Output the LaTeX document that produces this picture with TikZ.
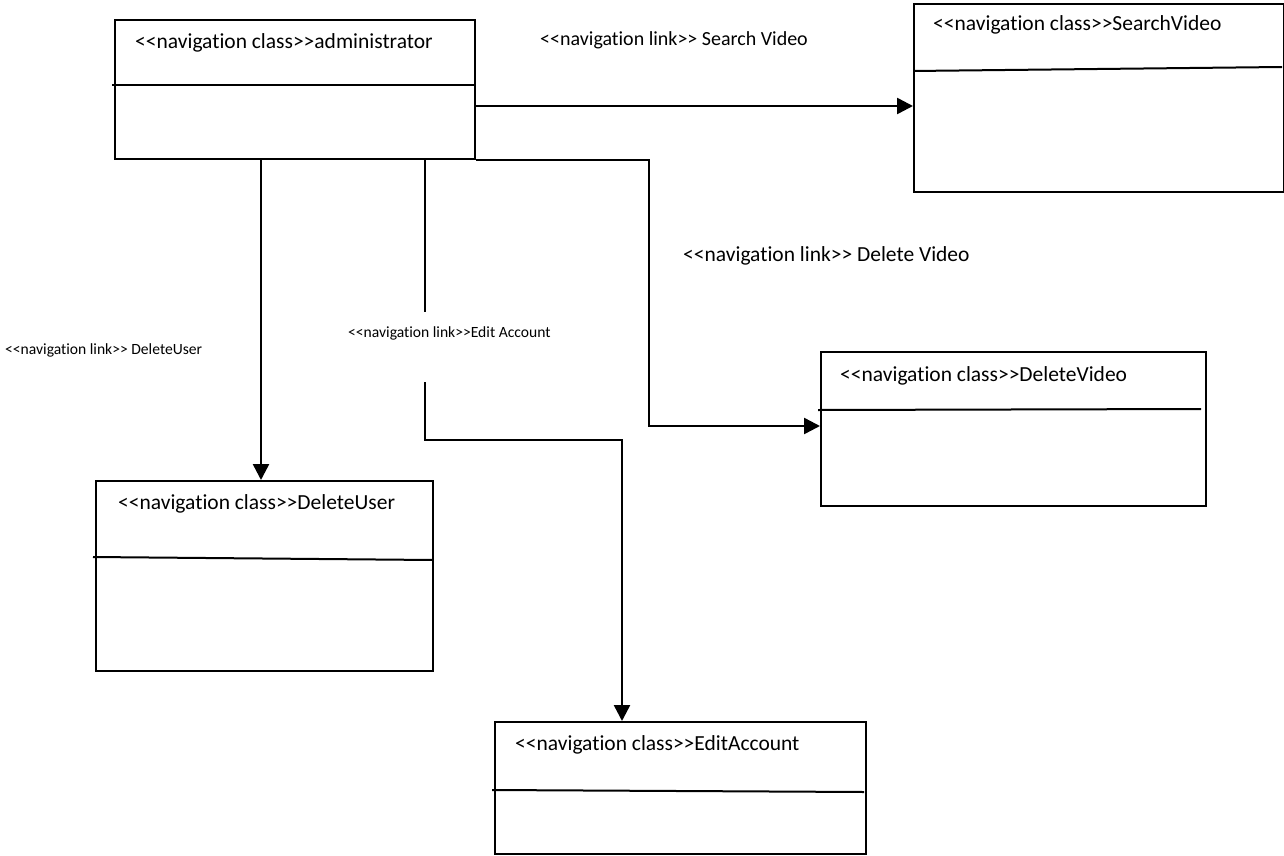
\documentclass[tikz,border=0pt]{standalone}
\usepackage{fontspec}
\setmainfont{Carlito}[Ligatures={TeXOff,NoCommon}]
\usetikzlibrary{arrows.meta,calc}
\begin{document}
\begin{tikzpicture}[x=1pt,y=-1pt,
  classbox/.style={draw, line width=2pt, rectangle, anchor=north west, inner sep=0pt},
  divider/.style={line width=2pt},
  link/.style={line width=2.5pt, -{Triangle[length=16pt,width=16pt]}},
  plain/.style={line width=2.5pt},
  title/.style={anchor=west, inner sep=0pt, font=\fontsize{21.5}{25}\selectfont},
  lbl/.style={anchor=west, inner sep=0pt, font=\fontsize{20}{24}\selectfont},
  small/.style={anchor=west, inner sep=0pt, font=\fontsize{15.6}{18}\selectfont}]
\useasboundingbox (0,0) rectangle (1284,856);

% navigation classes
\node[classbox, minimum width=360pt, minimum height=139pt] (admin) at (114,19) {};
\node[title] (tadmin) at (135,43) {<<navigation class>>administrator};
\draw[divider] (112,85) -- (474,85);

\node[classbox, minimum width=370pt, minimum height=188pt] (search) at (913,3) {};
\node[title] (tsearch) at (933,25) {<<navigation class>>SearchVideo};
\draw[divider] (913,71) -- (1282,67);

\node[classbox, minimum width=385pt, minimum height=154pt] (delvid) at (820,351) {};
\node[title] (tdelvid) at (840,376) {<<navigation class>>DeleteVideo};
\draw[divider] (818,410) -- (1201,409);

\node[classbox, minimum width=337pt, minimum height=190pt] (deluser) at (95,480) {};
\node[title] (tdeluser) at (118,504) {<<navigation class>>DeleteUser};
\draw[divider] (93,557) -- (433,560);

\node[classbox, minimum width=371pt, minimum height=132pt] (editacc) at (494,721) {};
\node[title] (teditacc) at (515,745) {<<navigation class>>EditAccount};
\draw[divider] (492,790) -- (864,792);

% navigation links
\coordinate (s0) at ($(admin.north east)+(0,87)$);
\draw[link] (s0) -- (s0 -| search.west);

\coordinate (dv) at ($(delvid.north west)+(0,75)$);
\draw[link] (admin.south east) -- ($(admin.south east)+(173,0)$) |- (dv);

\coordinate (du0) at ($(admin.south west)+(147,0)$);
\draw[link] (du0) -- (du0 |- deluser.north);

\coordinate (e0) at ($(admin.south west)+(311,0)$);
\coordinate (e1) at ($(e0)+(0,222)$);
\coordinate (ea) at ($(editacc.north west)+(128,0)$);
\draw[plain] (e0) -- ($(e0)+(0,152)$);
\draw[link] (e1) |- ($(ea)+(0,-281)$) -- (ea);

% link labels
\node[lbl] (lsv) at (540,40) {<<navigation link>> Search Video};
\node[title] (ldv) at (683,256) {<<navigation link>> Delete Video};
\node[small] (ldu) at (5,350) {<<navigation link>> DeleteUser};
\node[small] (lea) at (348,333) {<<navigation link>>Edit Account};
\end{tikzpicture}
\end{document}
